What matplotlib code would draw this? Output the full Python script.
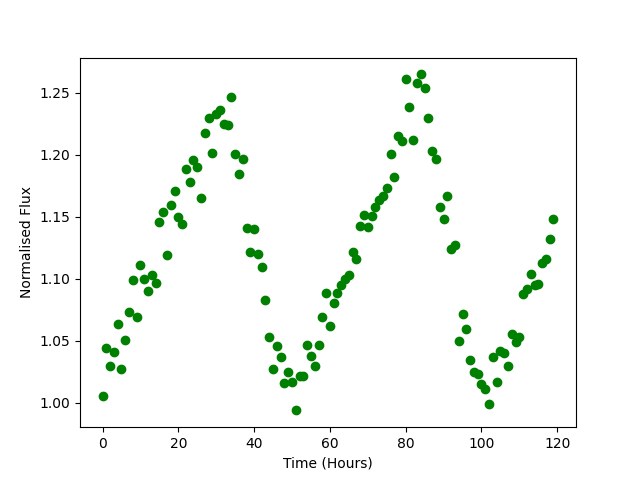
import matplotlib
matplotlib.use("Agg")
import matplotlib.pyplot as plt
import numpy as np

hours = np.arange(120)
flux = [
    1.006, 1.044, 1.030, 1.041, 1.064, 1.027, 1.051, 1.073, 1.099, 1.069,
    1.111, 1.100, 1.090, 1.103, 1.097, 1.146, 1.154, 1.119, 1.160, 1.171,
    1.150, 1.144, 1.189, 1.178, 1.196, 1.190, 1.165, 1.218, 1.230, 1.202,
    1.233, 1.236, 1.225, 1.224, 1.247, 1.201, 1.185, 1.197, 1.141, 1.122,
    1.140, 1.120, 1.110, 1.083, 1.053, 1.027, 1.046, 1.037, 1.016, 1.025,
    1.017, 0.994, 1.022, 1.022, 1.047, 1.038, 1.030, 1.047, 1.069, 1.089,
    1.062, 1.081, 1.089, 1.095, 1.100, 1.103, 1.122, 1.116, 1.143, 1.152,
    1.142, 1.151, 1.158, 1.164, 1.167, 1.173, 1.201, 1.182, 1.215, 1.211,
    1.261, 1.239, 1.212, 1.258, 1.265, 1.254, 1.230, 1.203, 1.197, 1.158,
    1.148, 1.167, 1.124, 1.127, 1.050, 1.072, 1.060, 1.035, 1.025, 1.023,
    1.015, 1.011, 0.999, 1.037, 1.017, 1.042, 1.040, 1.030, 1.056, 1.049,
    1.053, 1.088, 1.092, 1.104, 1.095, 1.096, 1.113, 1.116, 1.132, 1.148,
]

fig = plt.figure(figsize=(6.4, 4.8), dpi=100)
plt.plot(hours, flux, "go")
plt.xlabel("Time (Hours)")
plt.ylabel("Normalised Flux")
plt.savefig("out.png")
